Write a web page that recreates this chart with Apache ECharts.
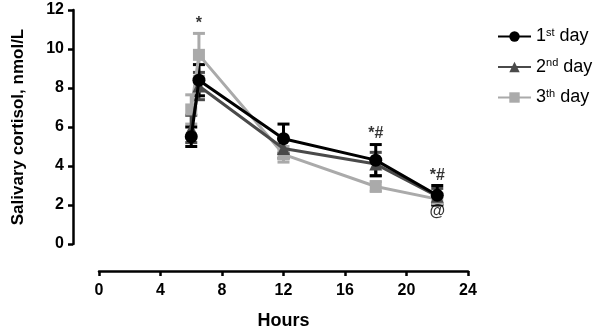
<!DOCTYPE html>
<html lang="en">
<head>
    <meta charset="UTF-8">
    <title>Salivary cortisol</title>
    <script type="text/javascript" src="https://cdn.jsdelivr.net/npm/echarts@6/dist/echarts.min.js"></script>
</head>
<body style="margin:0">
<div id="main" style="width: 608px;height:335px;"></div>

<script type="text/javascript">
    // sampling times (hours) and mean +/- error per day
    var hours = [6, 6.5, 12, 18, 22];
    var day1 = [5.5, 8.4, 5.4, 4.3, 2.5];
    var day1Err = [0.5, 0.8, 0.75, 0.8, 0.5];
    var day2 = [5.9, 8.1, 4.9, 4.1, 2.45];
    var day2Err = [0.7, 0.7, 0.5, 0.6, 0.4];
    var day3 = [6.9, 9.7, 4.6, 2.95, 2.3];
    var day3Err = [0.75, 1.1, 0.4, 0.25, 0.3];
    var xTicks = [0, 4, 8, 12, 16, 20, 24];
    var yTicks = [0, 2, 4, 6, 8, 10, 12];

    // significance marks: [hour, y, text]
    var marks = [[6.5, 11.3, '*'], [18, 5.65, '*#'], [22, 3.5, '*#'], [22, 1.65, '@']];

    var chartDom = document.getElementById('main');
    var myChart = echarts.init(chartDom);

    var font = 'Liberation Sans, Arial, sans-serif';

    function pts(vals) {
        return hours.map(function (h, i) { return [h, vals[i]]; });
    }
    function errData(vals, errs) {
        return hours.map(function (h, i) { return [h, vals[i] - errs[i], vals[i] + errs[i]]; });
    }
    function errSeries(vals, errs, color) {
        return {
            type: 'custom',
            silent: true,
            data: errData(vals, errs),
            renderItem: function (params, api) {
                var lo = api.coord([api.value(0), api.value(1)]);
                var hi = api.coord([api.value(0), api.value(2)]);
                var w = 6;
                var st = {stroke: color, lineWidth: 3};
                return {
                    type: 'group',
                    children: [
                        {type: 'line', shape: {x1: lo[0], y1: lo[1], x2: hi[0], y2: hi[1]}, style: st},
                        {type: 'line', shape: {x1: lo[0] - w, y1: lo[1], x2: lo[0] + w, y2: lo[1]}, style: st},
                        {type: 'line', shape: {x1: hi[0] - w, y1: hi[1], x2: hi[0] + w, y2: hi[1]}, style: st}
                    ]
                };
            },
            z: 2
        };
    }

    var names = {
        'day1': '{n|1}{s|st}{n| day}',
        'day2': '{n|2}{s|nd}{n| day}',
        'day3': '{n|3}{s|th}{n| day}'
    };

    var option = {
        animation: false,
        grid: {left: 99, right: 140, top: 10, bottom: 89},
        legend: {
            data: ['day1', 'day2', 'day3'],
            orient: 'vertical',
            left: 492,
            top: 22,
            itemWidth: 33,
            itemHeight: 13,
            itemGap: 12,
            formatter: function (name) { return names[name]; },
            textStyle: {
                rich: {
                    n: {fontSize: 18, fontFamily: font, color: '#000'},
                    s: {fontSize: 11, fontFamily: font, color: '#000', padding: [0, 0, 8, 0]}
                }
            }
        },
        xAxis: {
            type: 'value',
            min: 0, max: 24, interval: 4,
            offset: 27,
            name: 'Hours',
            nameLocation: 'middle',
            nameGap: 41,
            nameTextStyle: {fontSize: 18, fontWeight: 'bold', fontFamily: font, color: '#000'},
            axisLine: {onZero: false, lineStyle: {color: '#000', width: 2.5}},
            axisTick: {length: 5, lineStyle: {width: 2.5}},
            axisLabel: {
                fontSize: 16, fontWeight: 'bold', fontFamily: font, color: '#000', margin: 12,
                customValues: xTicks
            },
            splitLine: {show: false}
        },
        yAxis: {
            type: 'value',
            min: 0, max: 12, interval: 2,
            offset: 26,
            name: 'Salivary cortisol, nmol/L',
            nameLocation: 'middle',
            nameGap: 46,
            nameTextStyle: {fontSize: 17, fontWeight: 'bold', fontFamily: font, color: '#000'},
            axisLine: {show: true, onZero: false, lineStyle: {color: '#000', width: 2.5}},
            axisTick: {show: true, length: 5, lineStyle: {width: 2.5}},
            axisLabel: {
                fontSize: 16, fontWeight: 'bold', fontFamily: font, color: '#000', margin: 9,
                customValues: yTicks
            },
            splitLine: {show: false}
        },
        series: [
            errSeries(day3, day3Err, '#aaaaaa'),
            {
                name: 'day3', type: 'line', data: pts(day3),
                symbol: 'rect', symbolSize: 12,
                lineStyle: {color: '#aaaaaa', width: 3},
                itemStyle: {color: '#aaaaaa'},
                z: 3
            },
            errSeries(day2, day2Err, '#4a4a4a'),
            {
                name: 'day2', type: 'line', data: pts(day2),
                symbol: 'triangle', symbolSize: 13,
                lineStyle: {color: '#4a4a4a', width: 3},
                itemStyle: {color: '#4a4a4a'},
                z: 4
            },
            errSeries(day1, day1Err, '#000000'),
            {
                name: 'day1', type: 'line', data: pts(day1),
                symbol: 'circle', symbolSize: 13,
                lineStyle: {color: '#000000', width: 3},
                itemStyle: {color: '#000000'},
                z: 5
            },
            {
                type: 'scatter',
                silent: true,
                symbolSize: 1,
                itemStyle: {color: 'rgba(0,0,0,0)'},
                data: marks.map(function (m) { return {value: [m[0], m[1]], label: {formatter: m[2]}}; }),
                label: {
                    show: true, position: 'inside',
                    fontSize: 16, fontWeight: 'bold', fontFamily: font, color: '#000'
                },
                z: 6
            }
        ]
    };

    option && myChart.setOption(option);
</script>
</body>
</html>
